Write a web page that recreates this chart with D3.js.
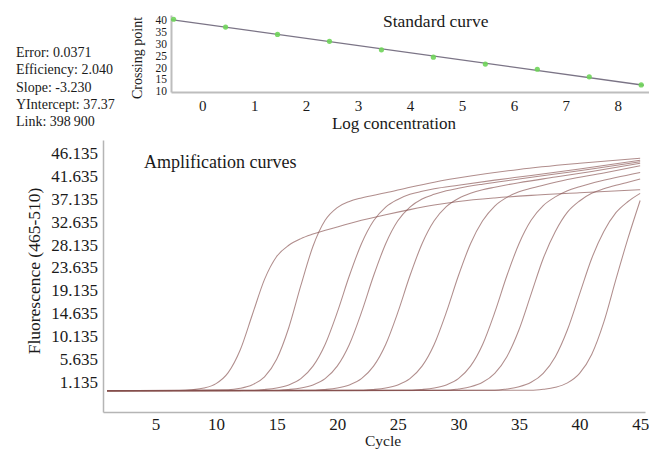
<!DOCTYPE html>
<html>
<head>
<meta charset="utf-8">
<script src="https://cdn.jsdelivr.net/npm/d3@7"></script>
<style>
  body { margin: 0; background: #fff; }
  text { font-family: "Liberation Serif", "Times New Roman", serif; fill: #1a1a1a; }
</style>
</head>
<body>
<div id="chart"></div>
<script>
// ---- standard curve data ----
const logConc = [-0.55, 0.45, 1.45, 2.45, 3.45, 4.45, 5.45, 6.45, 7.45, 8.45];
const crossingPoint = [40.3, 37.0, 33.9, 31.0, 27.4, 24.3, 21.4, 19.2, 16.0, 12.6];
const stdXTicks = [0, 1, 2, 3, 4, 5, 6, 7, 8];
const stdYTicks = [10, 15, 20, 25, 30, 35, 40];
const statLines = ["Error: 0.0371", "Efficiency: 2.040", "Slope: -3.230", "YIntercept: 37.37", "Link: 398\u2009900"];

// ---- amplification curves: [cycle, fluorescence] ----
const curve1 = [[1,-0.6],[7,-0.55],[8,-0.4],[9,-0.06],[10,0.82],[11,2.98],[12,7.47],[13,14.4],[14,21.3],[15,25.8],[16,28.0],[17,29.3],[18,30.2],[20,31.6],[22,32.9],[24,34.0],[26,35.0],[28,35.9],[30,36.6],[33,37.3],[36,37.8],[40,38.3],[45,38.9]];
const curve2 = [[1,-0.6],[11,-0.4],[12,-0.1],[13,0.6],[14,2.15],[15,5.6],[16,11.8],[17,20.1],[18,27.8],[19,32.9],[20,35.4],[21,36.6],[22,37.3],[24,38.3],[26,39.4],[28,40.4],[31,41.6],[35,42.9],[40,44.1],[45,45.1]];
const curve3 = [[1,-0.6],[13,-0.5],[14,-0.34],[15,-0.05],[16,0.56],[17,1.81],[18,4.25],[19,8.51],[20,14.8],[21,22.0],[22,28.3],[23,32.8],[24,35.5],[25,37.0],[26,38.0],[27,38.6],[28,39.1],[30,39.8],[33,40.8],[36,41.7],[40,43.0],[45,44.7]];
const curve4 = [[1,-0.6],[15,-0.5],[16,-0.34],[17,-0.05],[18,0.56],[19,1.81],[20,4.25],[21,8.51],[22,14.8],[23,22.0],[24,28.3],[25,32.8],[26,35.5],[27,37.1],[28,38.0],[29,38.7],[30,39.2],[32,40.0],[35,41.0],[38,42.0],[41,43.0],[45,44.4]];
const curve5 = [[1,-0.6],[18,-0.5],[19,-0.34],[20,-0.05],[21,0.56],[22,1.81],[23,4.25],[24,8.51],[25,14.8],[26,22.0],[27,28.3],[28,32.8],[29,35.6],[30,37.2],[31,38.2],[32,38.9],[33,39.4],[35,40.3],[38,41.4],[41,42.5],[45,44.1]];
const curve6 = [[1,-0.6],[22,-0.5],[23,-0.34],[24,-0.05],[25,0.56],[26,1.81],[27,4.25],[28,8.51],[29,14.8],[30,22.0],[31,28.3],[32,32.8],[33,35.7],[34,37.4],[35,38.5],[36,39.2],[37,39.8],[39,40.9],[42,42.2],[45,43.6]];
const curve7 = [[1,-0.6],[26,-0.5],[27,-0.34],[28,-0.05],[29,0.56],[30,1.81],[31,4.25],[32,8.51],[33,14.8],[34,22.0],[35,28.3],[36,32.9],[37,35.8],[38,37.5],[39,38.7],[40,39.5],[41,40.2],[43,41.3],[45,42.3]];
const curve8 = [[1,-0.6],[29,-0.5],[30,-0.23],[31,0.19],[32,1.07],[33,2.84],[34,6.11],[35,11.4],[36,18.4],[37,25.4],[38,30.7],[39,34.5],[40,36.7],[41,38.2],[42,39.1],[43,39.8],[44,40.4],[45,41.0]];
const curve9 = [[1,-0.6],[33,-0.5],[34,-0.23],[35,0.19],[36,1.07],[37,2.84],[38,6.11],[39,11.4],[40,18.4],[41,25.4],[42,30.7],[43,34.4],[44,36.6],[45,38.2]];
const curve10 = [[1,-0.6],[36,-0.5],[37,-0.3],[38,0.1],[39,0.97],[40,2.84],[41,6.55],[42,12.9],[43,21.3],[44,29.4],[45,36.8]];
const ampCurves = [curve1, curve2, curve3, curve4, curve5, curve6, curve7, curve8, curve9, curve10];
const cycleTicks = [5, 10, 15, 20, 25, 30, 35, 40, 45];
const fluoTicks = [1.135, 5.635, 10.135, 14.635, 19.135, 23.635, 28.135, 32.635, 37.135, 41.635, 46.135];

const W = 649, H = 449;
const svg = d3.select("#chart").append("svg")
    .attr("width", W).attr("height", H)
    .style("background", "#fff");

// ===== stats block =====
svg.append("g").selectAll("text")
    .data(statLines)
    .enter().append("text")
    .attr("x", 16)
    .attr("y", (d, i) => 57 + i * 17.3)
    .attr("font-size", "14px")
    .text(d => d);

// ===== standard curve (top) =====
const xStd = d3.scaleLinear().domain([-0.6, 8.6]).range([171, 649]);
const yStd = d3.scaleLinear().domain([9.6, 42.1]).range([92, 15]);

const topX = svg.append("g")
    .attr("transform", `translate(0, ${yStd.range()[0]})`)
    .call(d3.axisBottom(xStd).tickValues(stdXTicks).tickSize(0).tickPadding(8).tickSizeOuter(0));
topX.selectAll("text").attr("font-size", "15px");
topX.select(".domain").attr("stroke", "#bdbdbd").attr("stroke-width", 2);

const topY = svg.append("g")
    .attr("transform", `translate(${xStd.range()[0]}, 0)`)
    .call(d3.axisLeft(yStd).tickValues(stdYTicks).tickSize(0).tickPadding(4).tickSizeOuter(0));
topY.selectAll("text").attr("font-size", "11.5px");
topY.select(".domain").attr("stroke", "#bdbdbd").attr("stroke-width", 2);

// least-squares fit through the crossing points
const mx = d3.mean(logConc), my = d3.mean(crossingPoint);
const slope = d3.sum(logConc, (x, i) => (x - mx) * (crossingPoint[i] - my)) / d3.sum(logConc, x => (x - mx) * (x - mx));
const fit = x => my + slope * (x - mx);
const fitXs = [xStd.domain()[0], 8.5];

svg.append("path")
    .datum(fitXs)
    .attr("fill", "none")
    .attr("stroke", "#7b7486")
    .attr("stroke-width", 1.4)
    .attr("d", d3.line().x(d => xStd(d)).y(d => yStd(fit(d))));

svg.append("g").selectAll("circle")
    .data(logConc)
    .enter().append("circle")
    .attr("cx", d => xStd(d))
    .attr("cy", (d, i) => yStd(crossingPoint[i]))
    .attr("r", 2.6)
    .attr("fill", "#6fd45a")
    .attr("opacity", 0.9);

svg.append("text")
    .attr("x", 383).attr("y", 27)
    .attr("font-size", "17.5px")
    .text("Standard curve");

svg.append("text")
    .attr("x", 394).attr("y", 129)
    .attr("text-anchor", "middle")
    .attr("font-size", "17px")
    .text("Log concentration");

svg.append("text")
    .attr("transform", "translate(142, 58) rotate(-90)")
    .attr("text-anchor", "middle")
    .attr("font-size", "14px")
    .text("Crossing point");

// ===== amplification curves (bottom) =====
const xAmp = d3.scaleLinear().domain([0.67, 45.4]).range([103, 645]);
const yAmp = d3.scaleLinear().domain([-4.76, 48.68]).range([412, 140]);

const botX = svg.append("g")
    .attr("transform", `translate(0, ${yAmp.range()[0]})`)
    .call(d3.axisBottom(xAmp).tickValues(cycleTicks).tickSize(0).tickPadding(6).tickSizeOuter(0));
botX.selectAll("text").attr("font-size", "17px");
botX.select(".domain").attr("stroke", "#b5b5b5").attr("stroke-width", 1.5);

const botY = svg.append("g")
    .attr("transform", `translate(${xAmp.range()[0]}, 0)`)
    .call(d3.axisLeft(yAmp).tickValues(fluoTicks).tickFormat(d3.format(".3f")).tickSize(0).tickPadding(5).tickSizeOuter(0));
botY.selectAll("text").attr("font-size", "17px");
botY.select(".domain").attr("stroke", "#b5b5b5").attr("stroke-width", 1.5);

const ampLine = d3.line()
    .x(d => xAmp(d[0]))
    .y(d => yAmp(d[1]))
    .curve(d3.curveMonotoneX);

svg.append("g").selectAll("path")
    .data(ampCurves)
    .enter().append("path")
    .attr("fill", "none")
    .attr("stroke", "#86504e")
    .attr("stroke-opacity", 0.65)
    .attr("stroke-width", 1.05)
    .attr("d", ampLine);

svg.append("text")
    .attr("x", 144).attr("y", 168)
    .attr("font-size", "18px")
    .text("Amplification curves");

svg.append("text")
    .attr("x", 383).attr("y", 446)
    .attr("text-anchor", "middle")
    .attr("font-size", "15.5px")
    .text("Cycle");

svg.append("text")
    .attr("transform", "translate(40, 271) rotate(-90)")
    .attr("text-anchor", "middle")
    .attr("font-size", "17.5px")
    .text("Fluorescence (465-510)");
</script>
</body>
</html>
